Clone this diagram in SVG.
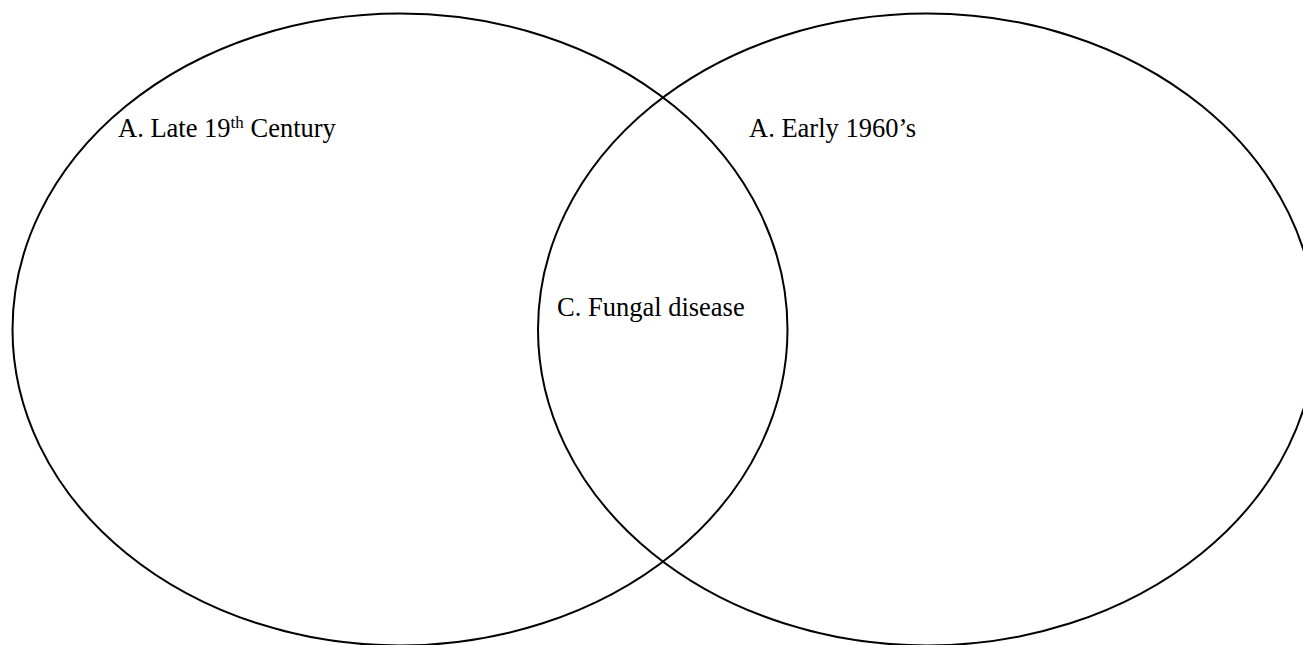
<svg xmlns="http://www.w3.org/2000/svg" width="1303" height="645" viewBox="0 0 1303 645">
<style>
.c{fill:none;stroke:#000;stroke-width:2}
.t{font-family:"Liberation Serif","Times New Roman",serif;font-size:26.5px;fill:#000}
</style>
<rect width="1303" height="645" fill="#fff"/>
<g id="left-set">
<ellipse class="c" cx="400" cy="329.5" rx="387.5" ry="316"/>
<text class="t" x="118" y="137">A. Late 19<tspan font-size="17" dy="-9">th</tspan><tspan dy="9"> Century</tspan></text>
</g>
<g id="right-set">
<ellipse class="c" cx="927" cy="329.5" rx="389" ry="316"/>
<text class="t" x="749" y="137">A. Early 1960’s</text>
</g>
<g id="overlap">
<text class="t" x="557" y="316">C. Fungal disease</text>
</g>
<g id="connectors"/>
</svg>
